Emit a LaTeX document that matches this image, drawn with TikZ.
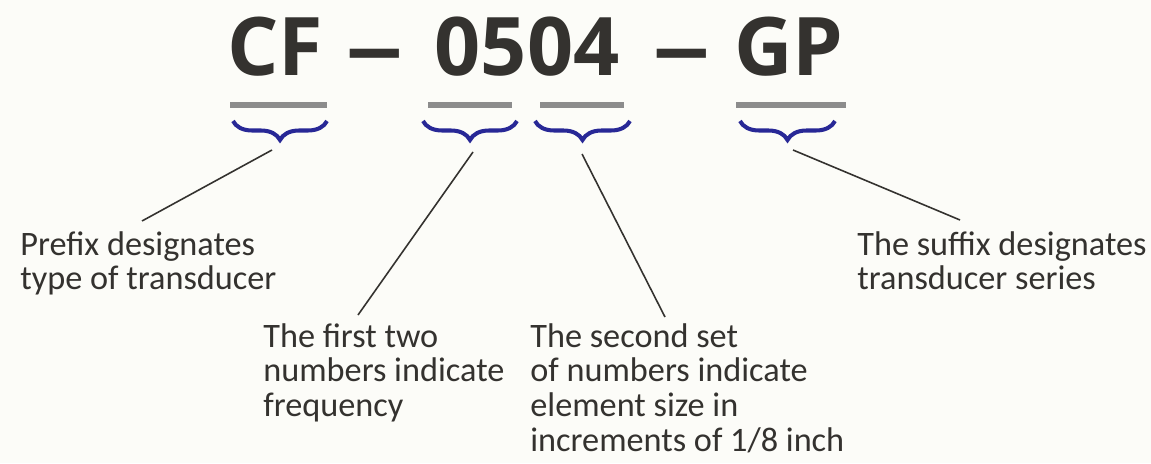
\documentclass[tikz,border=0pt]{standalone}
\usepackage{fontspec}
\setmainfont{Carlito}
\newfontfamily\titlefont{Open Sans}
\usetikzlibrary{calc,positioning,decorations.pathreplacing}

\definecolor{inkgray}{RGB}{52,50,47}
\definecolor{bargray}{RGB}{140,140,140}
\definecolor{bracenavy}{RGB}{40,40,150}
\definecolor{paper}{RGB}{252,252,248}

\newcommand{\widedash}{\scalebox{1.45}[1]{\textendash}}

\tikzset{
  code/.style={anchor=base, inner sep=0pt, text=inkgray,
    font=\titlefont\bfseries\fontsize{46}{50}\selectfont},
  note/.style={anchor=north west, inner sep=0pt, align=left, text=inkgray,
    font=\fontsize{19.5}{19.8}\selectfont},
  bar/.style={line width=3pt, color=bargray},
  curly/.style={line width=2.3pt, color=bracenavy,
    decorate, decoration={brace, mirror, amplitude=0.38cm}},
  leader/.style={line width=0.9pt, color=inkgray}
}

\begin{document}
\begin{tikzpicture}[x=0.02cm, y=-0.02cm]

  \fill [paper] (0,0) rectangle (1151,463);
  \useasboundingbox (0,0) rectangle (1151,463);

  % part number
  \node [code] at(275,75) (code_cf) {CF};
  \node [code] at(375,75) (code_dash_a) {\widedash};
  \node [code] at(527,75) (code_num) {0504};
  \node [code] at(682,75) (code_dash_b) {\widedash};
  \node [code] at(789,75) (code_gp) {GP};

  % bars and braces under each part
  \foreach \n/\bl/\br/\kl/\kr in {0/230/327/233/327, 1/428/512/423/517,%
      2/540/624/535/630, 3/736/846/740/835}
  {
    \draw [bar] (\bl,105) -- (\br,105);
    \draw [curly] (\kl,121) -- (\kr,121);
  }

  % explanations
  \node [note] at(20,231) (prefix) {Prefix designates\\type of transducer};
  \node [note] at(263,323) (first_two) {The first two\\numbers indicate\\frequency};
  \node [note] at(530,323) (second_set) {The second set\\of numbers indicate\\element size in\\increments of 1/8 inch};
  \node [note] at(857,231) (suffix) {The suffix designates\\transducer series};

  \coordinate (tip_0) at(272,150);
  \coordinate (tip_1) at(473,152);
  \coordinate (tip_2) at(582,154);
  \coordinate (tip_3) at(793,150);
  \coordinate (end_0) at(142,221);
  \coordinate (end_1) at(358,315);
  \coordinate (end_2) at(665,317);
  \coordinate (end_3) at(960,220);

  \foreach \n in {0,...,3}
  {
    \draw [leader] (tip_\n) -- (end_\n);
  }

\end{tikzpicture}
\end{document}
